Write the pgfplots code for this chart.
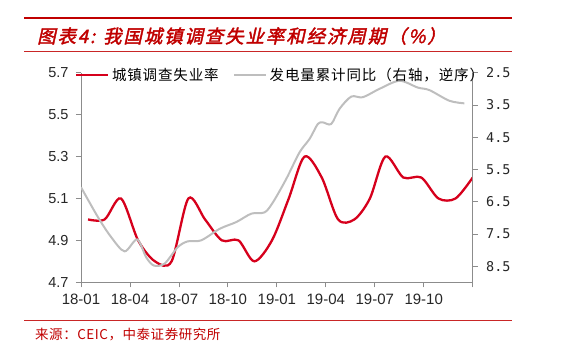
\documentclass[border=0pt]{standalone}
\usepackage{pgfplots}
\pgfplotsset{compat=1.18}
\usepackage{fontspec}
\setmainfont{Liberation Sans}
\newfontfamily\cjk{Noto Sans CJK SC}
\newfontfamily\cjklegend[LetterSpace=6]{Noto Sans CJK SC}
\newfontfamily\cjksrc[LetterSpace=4]{Noto Sans CJK SC}
\newfontfamily\cjktitle[FakeSlant=0.22,FakeBold=2,LetterSpace=10]{Noto Sans CJK SC}
\newfontfamily\monof{DejaVu Sans Mono}
\definecolor{ured}{HTML}{D6001C}
\definecolor{ugray}{HTML}{BEBEBE}
\definecolor{axgray}{HTML}{8C8C8C}
\definecolor{tred}{HTML}{C00000}
\begin{document}
\begin{tikzpicture}
\path[use as bounding box] (0,0) rectangle (580pt,359pt);
% title and rules
\draw[tred, line width=2.2pt] (24pt,340.7pt) -- (512pt,340.7pt);
\node[anchor=west, text=tred, inner sep=0pt] at (37pt,323pt) {\cjktitle\fontsize{18.5}{22}\selectfont 图表4: 我国城镇调查失业率和经济周期（\%）};
\draw[tred!85, line width=0.9pt] (24pt,308pt) -- (512pt,308pt);
\draw[tred!85, line width=0.9pt] (24pt,39pt) -- (512pt,39pt);
\node[anchor=west, text=tred, inner sep=0pt] at (35pt,24pt) {\cjksrc\fontsize{13.5}{15}\selectfont 来源：CEIC，中泰证券研究所};
% left axis
\begin{axis}[
  at={(81pt,76.7pt)}, anchor=south west, scale only axis,
  width=391.7pt, height=209.6pt,
  xmin=0, xmax=24, ymin=4.7, ymax=5.7,
  axis x line*=bottom, axis y line*=left,
  axis line style={axgray, line width=0.8pt},
  tick style={axgray, line width=0.8pt},
  tick align=outside, major tick length=5pt,
  xtick={0,3,6,9,12,15,18,21,24},
  xticklabels={18-01,18-04,18-07,18-10,19-01,19-04,19-07,19-10,{}},
  ytick={4.7,4.9,5.1,5.3,5.5,5.7},
  /pgf/number format/assume math mode=true,
  yticklabel style={/pgf/number format/fixed, /pgf/number format/fixed zerofill, /pgf/number format/precision=1, xshift=-4pt, font=\fontsize{14.5}{16}\selectfont},
  xticklabel style={yshift=-3pt, font=\fontsize{15}{17}\selectfont},
  ticklabel style={text=black!85},
]
\addplot[ured, line width=2.3pt, smooth] coordinates {
(0.43,5.0) (1.45,5.0) (2.45,5.1) (3.50,4.9) (4.53,4.8) (5.55,4.8)
(6.58,5.1) (7.60,5.0) (8.63,4.9) (9.65,4.9) (10.62,4.8) (11.70,4.9)
(12.73,5.1) (13.70,5.3) (14.75,5.2) (15.75,5.0) (16.75,5.0) (17.70,5.1)
(18.65,5.3) (19.75,5.2) (20.85,5.2) (21.90,5.1) (22.95,5.1) (24.00,5.2)
};
\end{axis}
% right axis
\begin{axis}[
  at={(81pt,76.7pt)}, anchor=south west, scale only axis,
  width=391.7pt, height=209.6pt,
  xmin=0, xmax=24, ymin=2.5, ymax=9.0, y dir=reverse,
  axis x line=none, axis y line*=right,
  axis line style={axgray, line width=0.8pt},
  tick style={axgray, line width=0.8pt},
  tick align=outside, major tick length=5pt,
  ytick={2.5,3.5,4.5,5.5,6.5,7.5,8.5},
  /pgf/number format/assume math mode=true,
  yticklabel style={/pgf/number format/fixed, /pgf/number format/fixed zerofill, /pgf/number format/precision=1, font=\monof\fontsize{13.5}{16}\selectfont, text=black!85, xshift=5pt},
  legend columns=2,
  legend style={at={(-0.0153,0.99)}, anchor=west, draw=none, fill=none,
    font=\cjklegend\fontsize{14.5}{16}\selectfont, inner sep=0pt,
    nodes={inner xsep=2.5pt},
    /tikz/every even column/.append style={column sep=12pt}},
  legend cell align=left,
  legend image code/.code={\draw[#1] (0pt,0pt) -- (32pt,0pt);},
]
\addlegendimage{ured, line width=2.3pt}
\addlegendentry{城镇调查失业率}
\addplot[ugray, line width=2pt, smooth] coordinates {
(0,6.05) (1.04,6.98) (1.85,7.60) (2.67,8.04) (3.44,7.67) (3.99,8.22)
(4.46,8.48) (5.12,8.42) (5.93,7.91) (6.54,7.73) (7.36,7.70) (8.50,7.34)
(9.52,7.13) (10.44,6.87) (11.25,6.83) (11.76,6.52) (12.58,5.79) (13.39,4.97)
(14.01,4.55) (14.51,4.09) (14.82,4.04) (15.33,4.09) (15.84,3.62) (16.56,3.24)
(17.27,3.26) (18.29,3.00) (19.51,2.75) (20.63,2.96) (21.35,3.04) (22.57,3.37)
(23.49,3.45)
};
\addlegendentry{发电量累计同比（右轴，逆序）}
\end{axis}
\end{tikzpicture}
\end{document}
